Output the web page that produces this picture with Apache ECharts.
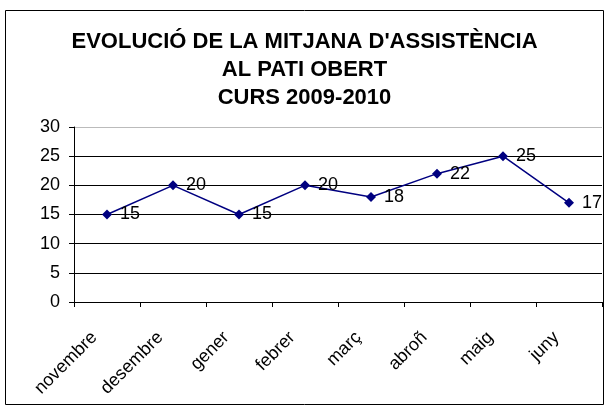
<!DOCTYPE html>
<html>
<head>
<meta charset="utf-8">
<script src="https://cdn.jsdelivr.net/npm/echarts@6/dist/echarts.min.js"></script>
<style>
  html, body { margin: 0; padding: 0; background: #fff; }
  #chart { width: 609px; height: 410px; }
</style>
</head>
<body>
<div id="chart"></div>
<script>
// mesos del curs
var mesos = ["novembre", "desembre", "gener", "febrer", "març", "abroñ", "maig", "juny"];
// mitjana d'assistència
var mitjana = [15, 20, 15, 20, 18, 22, 25, 17];
var titol = "EVOLUCIÓ DE LA MITJANA D'ASSISTÈNCIA\nAL PATI OBERT\nCURS 2009-2010";

var chart = echarts.init(document.getElementById("chart"));
var option = {
  backgroundColor: "#fff",
  animation: false,
  textStyle: { fontFamily: "Liberation Sans, Arial, sans-serif" },
  title: {
    text: titol,
    left: "center",
    top: 28,
    padding: 0,
    textStyle: {
      fontFamily: "Liberation Sans, Arial, sans-serif",
      fontSize: 22,
      fontWeight: "bold",
      color: "#000",
      lineHeight: 28
    }
  },
  graphic: [{
    type: "rect",
    shape: { x: 5.5, y: 10.5, width: 598, height: 394 },
    style: { fill: "none", stroke: "#000", lineWidth: 1 },
    silent: true
  }],
  grid: { left: 74, right: 7, top: 127, bottom: 108, containLabel: false },
  xAxis: {
    type: "category",
    data: mesos,
    boundaryGap: true,
    axisLine: { lineStyle: { color: "#000", width: 1 } },
    axisTick: { show: true, alignWithLabel: false, length: 5, inside: false, lineStyle: { color: "#000" } },
    axisLabel: {
      interval: 0,
      rotate: 45,
      margin: 20,
      padding: [0, 18, 0, 0],
      fontSize: 18,
      color: "#000",
      fontFamily: "Liberation Sans, Arial, sans-serif"
    }
  },
  yAxis: {
    type: "value",
    min: 0,
    max: 30,
    interval: 5,
    axisLine: { show: true, lineStyle: { color: "#000", width: 1 } },
    axisTick: { show: true, length: 5, lineStyle: { color: "#000" } },
    axisLabel: {
      margin: 14,
      fontSize: 18,
      color: "#000",
      fontFamily: "Liberation Sans, Arial, sans-serif"
    },
    splitLine: {
      show: true,
      lineStyle: { color: ["#000", "#000", "#000", "#000", "#000", "#000", "#bbb"], width: 1 }
    }
  },
  series: [{
    type: "line",
    data: mitjana,
    symbol: "diamond",
    symbolSize: 10,
    lineStyle: { color: "#000080", width: 1.5 },
    itemStyle: { color: "#000080" },
    label: {
      show: true,
      position: "right",
      distance: 8,
      fontSize: 18,
      color: "#000",
      fontFamily: "Liberation Sans, Arial, sans-serif"
    }
  }]
};
chart.setOption(option);
</script>
</body>
</html>
